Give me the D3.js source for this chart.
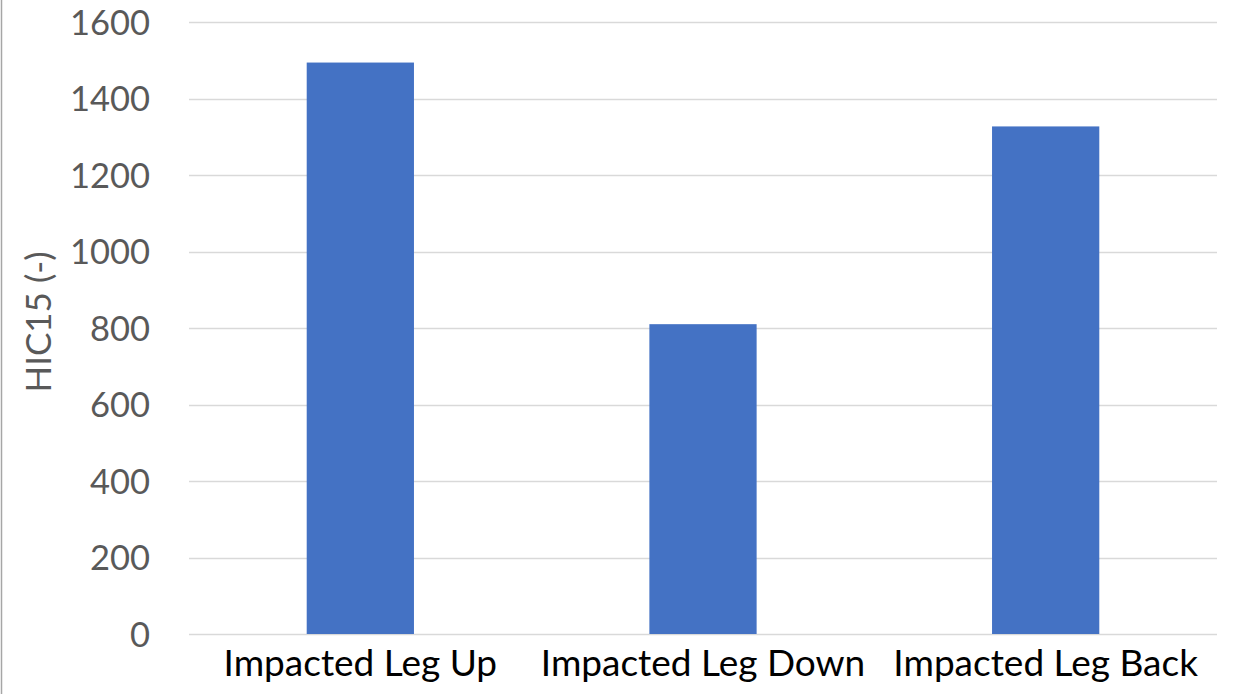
<!DOCTYPE html>
<html><head><meta charset="utf-8">
<script src="https://cdn.jsdelivr.net/npm/d3@7"></script>
<style>html,body{margin:0;padding:0;background:#fff;overflow:hidden}</style>
</head><body>
<svg id="c" width="1234" height="694"></svg>
<script>
const categories = ["Impacted Leg Up", "Impacted Leg Down", "Impacted Leg Back"];
const values = [1494, 810, 1327];
const yTicks = [0, 200, 400, 600, 800, 1000, 1200, 1400, 1600];
const yTitle = "HIC15 (-)";

const svg = d3.select("#c");
const m = {left: 189, right: 1217, top: 22, bottom: 634};
const font = "Lato, 'Open Sans', sans-serif";

svg.append("line").attr("x1", 1.5).attr("x2", 1.5).attr("y1", 0).attr("y2", 694)
  .attr("stroke", "#a6a6a6").attr("stroke-width", 1.5);

const x = d3.scaleBand().domain(categories).range([m.left, m.right])
  .paddingInner(0.687).paddingOuter(0.3435);
const y = d3.scaleLinear().domain([0, 1600]).range([m.bottom, m.top]);

// gridlines
svg.append("g").selectAll("line").data(yTicks).join("line")
  .attr("x1", m.left).attr("x2", m.right)
  .attr("y1", d => Math.round(y(d)) + 0.5).attr("y2", d => Math.round(y(d)) + 0.5)
  .attr("stroke", "#d9d9d9").attr("stroke-width", 1.3);

// bars
svg.append("g").selectAll("rect").data(values).join("rect")
  .attr("x", (d, i) => x(categories[i]))
  .attr("width", x.bandwidth())
  .attr("y", d => y(d))
  .attr("height", d => y(0) - y(d))
  .attr("fill", "#4472c4");

// y tick labels
const yAxis = d3.axisLeft(y).tickValues(yTicks).tickFormat(d3.format("d")).tickSize(0).tickPadding(0);
const gy = svg.append("g").attr("transform", "translate(150,0)").call(yAxis);
gy.select(".domain").remove();
gy.selectAll("text").attr("font-family", font).attr("font-size", 34.5)
  .attr("fill", "#595959").attr("dy", "0.36em");

// x labels
const xAxis = d3.axisBottom(x).tickSize(0).tickPadding(0);
const gx = svg.append("g").attr("transform", "translate(0,676)").call(xAxis);
gx.select(".domain").remove();
gx.selectAll("text").attr("font-family", font).attr("font-size", 37)
  .attr("fill", "#000").attr("dy", 0);

// y title
svg.append("text").attr("transform", "translate(51,322) rotate(-90)")
  .attr("text-anchor", "middle").attr("font-family", font).attr("font-size", 35)
  .attr("fill", "#595959").text(yTitle);
</script>
</body></html>
